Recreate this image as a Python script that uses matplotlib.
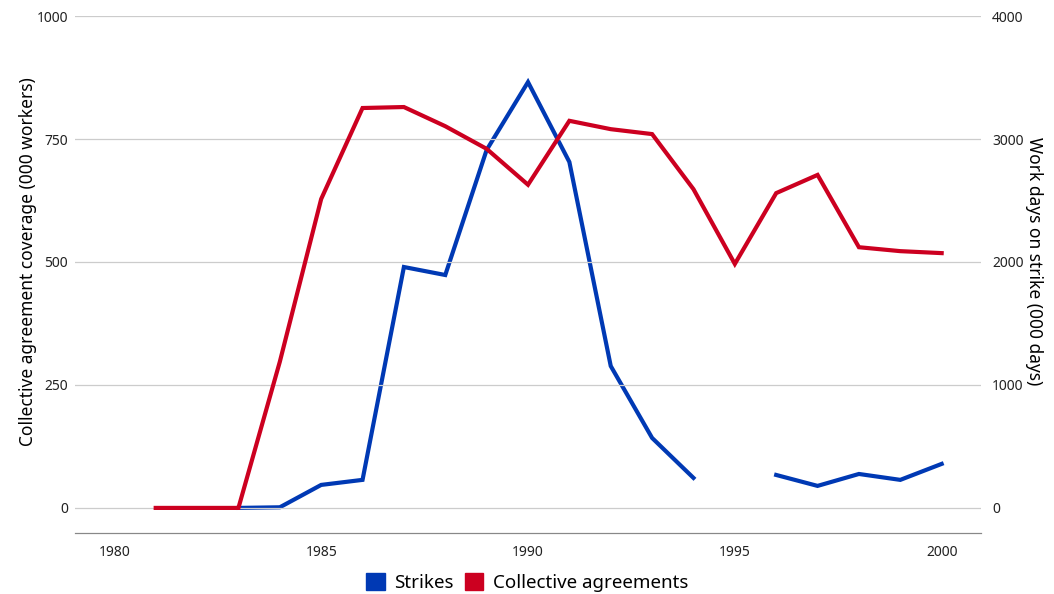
import matplotlib.pyplot as plt
import matplotlib.patches as mpatches
import numpy as np

plt.rcParams['font.family'] = ['Noto Sans', 'DejaVu Sans']

# Data
years_ca = list(range(1981, 2001))
agreements = [0, 0, 0, 297, 628, 813, 815, 776, 730, 657,
              787, 770, 760, 648, 496, 640, 677, 530, 522, 518]

years_st = list(range(1983, 2001))
strikes = [0, 5, 187, 228, 1959, 1894, 2911, 3463, 2813, 1154,
           569, 244, np.nan, 268, 179, 276, 228, 358]

blue = '#0039b4'
red = '#cc0020'

fig = plt.figure(figsize=(10.54, 5.94), dpi=100)
ax = fig.add_axes([0.0712, 0.1027, 0.8595, 0.8703])
ax2 = ax.twinx()

ax2.plot(years_st, strikes, color=blue, lw=3.0, solid_joinstyle='miter')
ax.plot(years_ca, agreements, color=red, lw=3.0, solid_joinstyle='miter', zorder=5)

# red (left axis) drawn above blue
ax.set_zorder(ax2.get_zorder() + 1)
ax.patch.set_visible(False)

ax.set_xlim(1979.05, 2000.95)
ax.set_ylim(-51, 1000)
ax2.set_ylim(-204, 4000)
ax.set_yticks([0, 250, 500, 750, 1000])
ax2.set_yticks([0, 1000, 2000, 3000, 4000])
ax.set_xticks([1980, 1985, 1990, 1995, 2000])

ax.grid(axis='y', color='#cccccc', lw=0.9)
ax.set_axisbelow(True)
for a in (ax, ax2):
    for s in ('top', 'left', 'right'):
        a.spines[s].set_visible(False)
    a.spines['bottom'].set_color('#888888')
    a.tick_params(length=0, labelsize=10, colors='#222222')
ax.tick_params(axis='y', pad=5)
ax2.tick_params(axis='y', pad=8)
ax.tick_params(axis='x', pad=9)

ax.set_ylabel('Collective agreement coverage (000 workers)', fontsize=12.5, labelpad=0)
ax2.set_ylabel('Work days on strike (000 days)', fontsize=12.5, rotation=270, labelpad=14)
ax.yaxis.label.set_y(0.525)
ax2.yaxis.label.set_y(0.525)

handles = [mpatches.Patch(color=blue, label='Strikes'),
           mpatches.Patch(color=red, label='Collective agreements')]
fig.legend(handles=handles, loc='lower center', bbox_to_anchor=(0.5, -0.025),
           ncol=2, frameon=False, fontsize=13.5, handlelength=1.0, handleheight=1.0,
           columnspacing=0.6, handletextpad=0.5)

fig.savefig('out.png', dpi=100)
